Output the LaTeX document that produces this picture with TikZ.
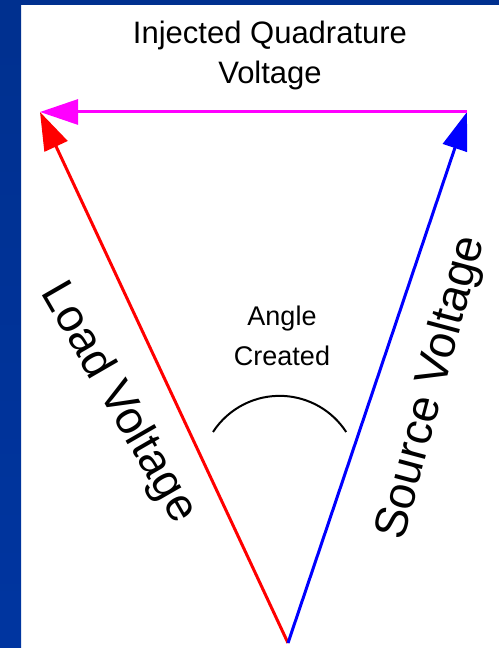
\documentclass[tikz,border=0pt]{standalone}
\usepackage{fontspec}
\newfontfamily\labfont{Liberation Sans}
\definecolor{slide}{HTML}{00308F}
\definecolor{slide2}{HTML}{0035A0}
\definecolor{ldv}{HTML}{FF0000}
\definecolor{srv}{HTML}{0000FF}
\definecolor{inj}{HTML}{FF00FF}
\usetikzlibrary{arrows.meta}
\tikzset{
  >={Triangle[length=38pt,width=25pt]},
  vec/.style={->,line width=3pt},
  lab/.style={font=\labfont\fontsize{31}{40}\selectfont,align=center,inner sep=0pt},
  biglab/.style={font=\labfont\fontsize{46}{55}\selectfont,inner sep=0pt},
}
\begin{document}
\begin{tikzpicture}[x=1pt,y=1pt]
\useasboundingbox (0,0) rectangle (499,648);
% slide frame
\shade[top color=slide,bottom color=slide2] (0,0) rectangle (21,648);
\fill[slide] (0,643) rectangle (499,648);
% phasor triangle
\coordinate (apex) at (288,5);
\coordinate (ld) at (40,536);
\coordinate (sr) at (467,536);
\draw[vec,draw=ldv,fill=ldv] (apex) -- (ld);
\draw[vec,draw=srv,fill=srv] (apex) -- (sr);
\draw[vec,draw=inj,fill=inj] (sr) -- (ld);
% angle mark
\draw[line width=2pt] (213,216) arc[start angle=147,end angle=33,radius=79.4];
\node[lab] (inject) at (270,593) {Injected Quadrature\\Voltage};
\node[lab,font=\labfont\fontsize{27}{40}\selectfont] (angle) at (282,312) {Angle\\Created};
\node[biglab,rotate=-60] (load) at (118,245) {Load Voltage};
\node[biglab,rotate=75] (source) at (432,260) {Source Voltage};
\end{tikzpicture}
\end{document}
